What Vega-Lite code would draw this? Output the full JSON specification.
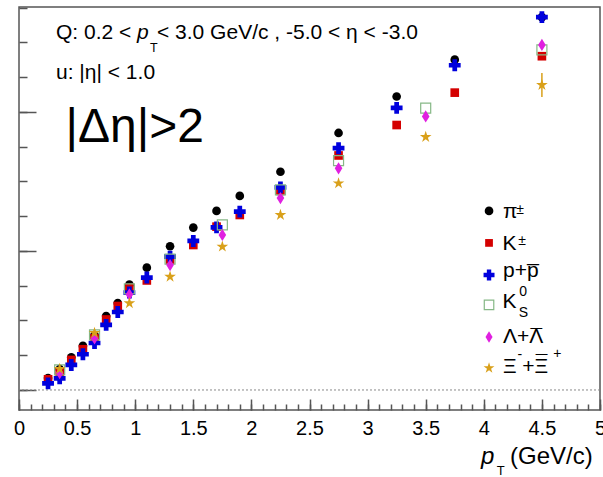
{
  "$schema": "https://vega.github.io/schema/vega-lite/v6.json",
  "width": 581,
  "height": 403,
  "autosize": {"type": "none"},
  "padding": {"left": 19, "top": 7, "right": 3, "bottom": 67},
  "background": "white",
  "config": {"view": {"stroke": "#555", "strokeWidth": 1.5}, "font": "Liberation Sans"},
  "resolve": {"axis": {"x": "independent", "y": "independent"}},
  "datasets": {
    "points": [
      {"s": "pi", "x": 0.25, "y": 0.0086}, {"s": "pi", "x": 0.35, "y": 0.0151}, {"s": "pi", "x": 0.45, "y": 0.0235},
      {"s": "pi", "x": 0.55, "y": 0.0317}, {"s": "pi", "x": 0.65, "y": 0.0395}, {"s": "pi", "x": 0.75, "y": 0.0532},
      {"s": "pi", "x": 0.85, "y": 0.0626}, {"s": "pi", "x": 0.95, "y": 0.0758}, {"s": "pi", "x": 1.1, "y": 0.0880},
      {"s": "pi", "x": 1.3, "y": 0.1034}, {"s": "pi", "x": 1.5, "y": 0.1168}, {"s": "pi", "x": 1.7, "y": 0.1288},
      {"s": "pi", "x": 1.9, "y": 0.1396}, {"s": "pi", "x": 2.25, "y": 0.1570}, {"s": "pi", "x": 2.75, "y": 0.1849},
      {"s": "pi", "x": 3.25, "y": 0.2111}, {"s": "pi", "x": 3.75, "y": 0.2376}, {"s": "pi", "x": 4.5, "y": 0.2682},
      {"s": "K", "x": 0.25, "y": 0.0077}, {"s": "K", "x": 0.35, "y": 0.0132}, {"s": "K", "x": 0.45, "y": 0.0216},
      {"s": "K", "x": 0.55, "y": 0.0293}, {"s": "K", "x": 0.65, "y": 0.0372}, {"s": "K", "x": 0.75, "y": 0.0507},
      {"s": "K", "x": 0.85, "y": 0.0604}, {"s": "K", "x": 0.95, "y": 0.0734}, {"s": "K", "x": 1.1, "y": 0.0788},
      {"s": "K", "x": 1.3, "y": 0.0935}, {"s": "K", "x": 1.5, "y": 0.1043}, {"s": "K", "x": 1.7, "y": 0.1175},
      {"s": "K", "x": 1.9, "y": 0.1259}, {"s": "K", "x": 2.25, "y": 0.1432}, {"s": "K", "x": 2.75, "y": 0.1687},
      {"s": "K", "x": 3.25, "y": 0.1906}, {"s": "K", "x": 3.75, "y": 0.2139}, {"s": "K", "x": 4.5, "y": 0.2401},
      {"s": "p", "x": 0.25, "y": 0.0048}, {"s": "p", "x": 0.35, "y": 0.0084}, {"s": "p", "x": 0.45, "y": 0.0180},
      {"s": "p", "x": 0.55, "y": 0.0257}, {"s": "p", "x": 0.65, "y": 0.0338}, {"s": "p", "x": 0.75, "y": 0.0468},
      {"s": "p", "x": 0.85, "y": 0.0561}, {"s": "p", "x": 0.95, "y": 0.0701}, {"s": "p", "x": 1.1, "y": 0.0809},
      {"s": "p", "x": 1.3, "y": 0.0959}, {"s": "p", "x": 1.5, "y": 0.1072}, {"s": "p", "x": 1.7, "y": 0.1170},
      {"s": "p", "x": 1.9, "y": 0.1283}, {"s": "p", "x": 2.25, "y": 0.1458}, {"s": "p", "x": 2.75, "y": 0.1739},
      {"s": "p", "x": 3.25, "y": 0.2029}, {"s": "p", "x": 3.75, "y": 0.2336}, {"s": "p", "x": 4.5, "y": 0.2682},
      {"s": "K0S", "x": 0.35, "y": 0.0144}, {"s": "K0S", "x": 0.65, "y": 0.0396}, {"s": "K0S", "x": 0.95, "y": 0.0727},
      {"s": "K0S", "x": 1.3, "y": 0.0942}, {"s": "K0S", "x": 1.75, "y": 0.1187}, {"s": "K0S", "x": 2.25, "y": 0.1439},
      {"s": "K0S", "x": 2.75, "y": 0.1650}, {"s": "K0S", "x": 3.5, "y": 0.2027}, {"s": "K0S", "x": 4.5, "y": 0.2446},
      {"s": "Lam", "x": 0.35, "y": 0.0122}, {"s": "Lam", "x": 0.65, "y": 0.0372}, {"s": "Lam", "x": 0.95, "y": 0.0687},
      {"s": "Lam", "x": 1.3, "y": 0.0899}, {"s": "Lam", "x": 1.75, "y": 0.1115}, {"s": "Lam", "x": 2.25, "y": 0.1381},
      {"s": "Lam", "x": 2.75, "y": 0.1595}, {"s": "Lam", "x": 3.5, "y": 0.1968}, {"s": "Lam", "x": 4.5, "y": 0.2482},
      {"s": "Xi", "x": 0.35, "y": 0.0151}, {"s": "Xi", "x": 0.65, "y": 0.0410}, {"s": "Xi", "x": 0.95, "y": 0.0624},
      {"s": "Xi", "x": 1.3, "y": 0.0815}, {"s": "Xi", "x": 1.75, "y": 0.1031}, {"s": "Xi", "x": 2.25, "y": 0.1259},
      {"s": "Xi", "x": 2.75, "y": 0.1487}, {"s": "Xi", "x": 3.5, "y": 0.1820}, {"s": "Xi", "x": 4.5, "y": 0.2194}
    ],
    "errs": [
      {"s": "Xi", "x": 4.5, "lo": 0.2108, "hi": 0.2280}
    ],
    "legend": [
      {"s": "pi", "x": 4.045, "y": 0.1288},
      {"s": "K", "x": 4.045, "y": 0.1058},
      {"s": "p", "x": 4.045, "y": 0.0827},
      {"s": "K0S", "x": 4.045, "y": 0.0612},
      {"s": "Lam", "x": 4.045, "y": 0.0381},
      {"s": "Xi", "x": 4.045, "y": 0.0158}
    ],
    "texts": [
      {"role": "note", "text": "Q: 0.2 <", "x": 0.3184, "y": 0.2523},
      {"role": "noteI", "text": "p", "x": 1.0155, "y": 0.2523},
      {"role": "noteSub", "text": "T", "x": 1.127, "y": 0.2434},
      {"role": "note", "text": "< 3.0 GeV/c , -5.0 < η < -3.0", "x": 1.1876, "y": 0.2523},
      {"role": "note", "text": "u: |η| < 1.0", "x": 0.3184, "y": 0.2237},
      {"role": "big", "text": "|Δη|>2", "x": 0.40, "y": 0.1786},
      {"role": "leg", "text": "π", "x": 4.165, "y": 0.1235},
      {"role": "legSup", "text": "±", "x": 4.28, "y": 0.1268},
      {"role": "leg", "text": "K", "x": 4.161, "y": 0.1007},
      {"role": "legSup", "text": "±", "x": 4.296, "y": 0.1040},
      {"role": "leg", "text": "p+p\u0305", "x": 4.165, "y": 0.0813},
      {"role": "leg", "text": "K", "x": 4.161, "y": 0.0590},
      {"role": "legSup", "text": "0", "x": 4.306, "y": 0.0676},
      {"role": "legSup", "text": "S", "x": 4.300, "y": 0.0522},
      {"role": "leg", "text": "Λ+Λ", "x": 4.165, "y": 0.0336},
      {"role": "leg", "text": "¯", "x": 4.402, "y": 0.0336},
      {"role": "leg", "text": "Ξ", "x": 4.165, "y": 0.0120},
      {"role": "legSup", "text": "-", "x": 4.29, "y": 0.0223},
      {"role": "leg", "text": "+Ξ", "x": 4.33, "y": 0.0120},
      {"role": "leg", "text": "¯", "x": 4.447, "y": 0.0150},
      {"role": "legSup", "text": "+", "x": 4.597, "y": 0.0233},
      {"role": "titleI", "text": "p", "x": 3.976, "y": -0.0532},
      {"role": "titleSub", "text": "T", "x": 4.111, "y": -0.0612},
      {"role": "title", "text": "(GeV/c)", "x": 4.2255, "y": -0.0532}
    ]
  },
  "layer": [
    {
      "data": {"values": [{}]},
      "mark": {"type": "rule", "color": "#888", "strokeWidth": 1, "strokeDash": [2, 2]},
      "encoding": {"y": {"datum": 0, "type": "quantitative", "axis": null}}
    },
    {
      "data": {"name": "points"},
      "transform": [{"filter": "datum.s == 'pi'"}],
      "mark": {"type": "point", "shape": "circle", "filled": true, "color": "#000000", "size": 75, "opacity": 1},
      "encoding": {
        "x": {
          "field": "x", "type": "quantitative",
          "scale": {"domain": [0, 5], "nice": false, "zero": false},
          "axis": {
            "orient": "bottom",
            "values": [0, 0.5, 1, 1.5, 2, 2.5, 3, 3.5, 4, 4.5, 5],
            "tickCount": 500,
            "format": "~g",
            "tickSize": -11,
            "tickColor": "#555", "tickWidth": 1.5, "domain": false, "grid": false, "title": null,
            "labelFont": "Liberation Sans", "labelFontSize": 20, "labelColor": "#000", "labelPadding": 19,
            "labelFlush": false, "labelOverlap": false
          }
        },
        "y": {
          "field": "y", "type": "quantitative",
          "scale": {"domain": [-0.0144, 0.2755], "nice": false, "zero": false},
          "axis": {
            "orient": "left",
            "values": [0, 0.1, 0.2],
            "tickCount": 500,
            "labels": false,
            "tickSize": -17,
            "tickColor": "#555", "tickWidth": 1.5, "domain": false, "grid": false, "title": null
          }
        }
      }
    },
    {
      "data": {"name": "points"},
      "transform": [{"filter": "datum.s == 'K'"}],
      "mark": {"type": "point", "shape": "square", "filled": true, "color": "#d40000", "size": 75, "opacity": 1},
      "encoding": {
        "x": {
          "field": "x", "type": "quantitative",
          "axis": {
            "orient": "bottom",
            "values": [0,0.1,0.2,0.3,0.4,0.5,0.6,0.7,0.8,0.9,1,1.1,1.2,1.3,1.4,1.5,1.6,1.7,1.8,1.9,2,2.1,2.2,2.3,2.4,2.5,2.6,2.7,2.8,2.9,3,3.1,3.2,3.3,3.4,3.5,3.6,3.7,3.8,3.9,4,4.1,4.2,4.3,4.4,4.5,4.6,4.7,4.8,4.9,5],
            "tickCount": 500,
            "labels": false,
            "tickSize": -6,
            "tickColor": "#555", "tickWidth": 1.5, "domain": false, "grid": false, "title": null
          }
        },
        "y": {
          "field": "y", "type": "quantitative",
          "axis": {
            "orient": "left",
            "values": [0,0.025,0.05,0.075,0.1,0.125,0.15,0.175,0.2,0.225,0.25,0.275],
            "tickCount": 500,
            "labels": false,
            "tickSize": -8,
            "tickColor": "#555", "tickWidth": 1.5, "domain": false, "grid": false, "title": null
          }
        }
      }
    },
    {
      "data": {"name": "points"},
      "transform": [{"filter": "datum.s == 'p'"}],
      "mark": {"type": "point", "shape": "cross", "filled": true, "color": "#0000dd", "size": 140, "opacity": 1},
      "encoding": {"x": {"field": "x", "type": "quantitative", "axis": null}, "y": {"field": "y", "type": "quantitative", "axis": null}}
    },
    {
      "data": {"name": "points"},
      "transform": [{"filter": "datum.s == 'K0S'"}],
      "mark": {"type": "point", "shape": "square", "filled": false, "color": "#86b886", "strokeWidth": 1.2, "size": 100, "opacity": 1},
      "encoding": {"x": {"field": "x", "type": "quantitative", "axis": null}, "y": {"field": "y", "type": "quantitative", "axis": null}}
    },
    {
      "data": {"name": "points"},
      "transform": [{"filter": "datum.s == 'Lam'"}],
      "mark": {"type": "point", "shape": "M0,-1L0.62,0L0,1L-0.62,0Z", "filled": true, "color": "#e020e0", "size": 150, "opacity": 1},
      "encoding": {"x": {"field": "x", "type": "quantitative", "axis": null}, "y": {"field": "y", "type": "quantitative", "axis": null}}
    },
    {
      "data": {"name": "errs"},
      "mark": {"type": "rule", "color": "#d9a01a", "strokeWidth": 1.5},
      "encoding": {"x": {"field": "x", "type": "quantitative", "axis": null}, "y": {"field": "lo", "type": "quantitative", "axis": null}, "y2": {"field": "hi"}}
    },
    {
      "data": {"name": "points"},
      "transform": [{"filter": "datum.s == 'Xi'"}],
      "mark": {"type": "point", "shape": "M0,-1L0.2235,-0.3075L0.951,-0.309L0.3614,0.1174L0.588,0.809L0,0.38L-0.588,0.809L-0.3614,0.1174L-0.951,-0.309L-0.2235,-0.3075Z", "filled": true, "color": "#d9a01a", "size": 150, "opacity": 1},
      "encoding": {"x": {"field": "x", "type": "quantitative", "axis": null}, "y": {"field": "y", "type": "quantitative", "axis": null}}
    },
    {
      "data": {"name": "legend"},
      "transform": [{"filter": "datum.s == 'pi'"}],
      "mark": {"type": "point", "shape": "circle", "filled": true, "color": "#000000", "size": 75, "opacity": 1},
      "encoding": {"x": {"field": "x", "type": "quantitative", "axis": null}, "y": {"field": "y", "type": "quantitative", "axis": null}}
    },
    {
      "data": {"name": "legend"},
      "transform": [{"filter": "datum.s == 'K'"}],
      "mark": {"type": "point", "shape": "square", "filled": true, "color": "#d40000", "size": 60, "opacity": 1},
      "encoding": {"x": {"field": "x", "type": "quantitative", "axis": null}, "y": {"field": "y", "type": "quantitative", "axis": null}}
    },
    {
      "data": {"name": "legend"},
      "transform": [{"filter": "datum.s == 'p'"}],
      "mark": {"type": "point", "shape": "cross", "filled": true, "color": "#0000dd", "size": 120, "opacity": 1},
      "encoding": {"x": {"field": "x", "type": "quantitative", "axis": null}, "y": {"field": "y", "type": "quantitative", "axis": null}}
    },
    {
      "data": {"name": "legend"},
      "transform": [{"filter": "datum.s == 'K0S'"}],
      "mark": {"type": "point", "shape": "square", "filled": false, "color": "#86b886", "strokeWidth": 1.2, "size": 90, "opacity": 1},
      "encoding": {"x": {"field": "x", "type": "quantitative", "axis": null}, "y": {"field": "y", "type": "quantitative", "axis": null}}
    },
    {
      "data": {"name": "legend"},
      "transform": [{"filter": "datum.s == 'Lam'"}],
      "mark": {"type": "point", "shape": "M0,-1L0.62,0L0,1L-0.62,0Z", "filled": true, "color": "#e020e0", "size": 130, "opacity": 1},
      "encoding": {"x": {"field": "x", "type": "quantitative", "axis": null}, "y": {"field": "y", "type": "quantitative", "axis": null}}
    },
    {
      "data": {"name": "legend"},
      "transform": [{"filter": "datum.s == 'Xi'"}],
      "mark": {"type": "point", "shape": "M0,-1L0.2235,-0.3075L0.951,-0.309L0.3614,0.1174L0.588,0.809L0,0.38L-0.588,0.809L-0.3614,0.1174L-0.951,-0.309L-0.2235,-0.3075Z", "filled": true, "color": "#d9a01a", "size": 130, "opacity": 1},
      "encoding": {"x": {"field": "x", "type": "quantitative", "axis": null}, "y": {"field": "y", "type": "quantitative", "axis": null}}
    },
    {
      "data": {"name": "texts"},
      "transform": [{"filter": "datum.role == 'note'"}],
      "mark": {"type": "text", "align": "left", "baseline": "alphabetic", "font": "Liberation Sans", "fontSize": 21, "color": "#000"},
      "encoding": {"x": {"field": "x", "type": "quantitative", "axis": null}, "y": {"field": "y", "type": "quantitative", "axis": null}, "text": {"field": "text"}}
    },
    {
      "data": {"name": "texts"},
      "transform": [{"filter": "datum.role == 'noteI'"}],
      "mark": {"type": "text", "align": "left", "baseline": "alphabetic", "font": "Liberation Sans", "fontSize": 21, "fontStyle": "italic", "color": "#000"},
      "encoding": {"x": {"field": "x", "type": "quantitative", "axis": null}, "y": {"field": "y", "type": "quantitative", "axis": null}, "text": {"field": "text"}}
    },
    {
      "data": {"name": "texts"},
      "transform": [{"filter": "datum.role == 'noteSub'"}],
      "mark": {"type": "text", "align": "left", "baseline": "alphabetic", "font": "Liberation Sans", "fontSize": 12.5, "color": "#000"},
      "encoding": {"x": {"field": "x", "type": "quantitative", "axis": null}, "y": {"field": "y", "type": "quantitative", "axis": null}, "text": {"field": "text"}}
    },
    {
      "data": {"name": "texts"},
      "transform": [{"filter": "datum.role == 'legSup'"}],
      "mark": {"type": "text", "align": "left", "baseline": "alphabetic", "font": "Liberation Sans", "fontSize": 14, "color": "#000"},
      "encoding": {"x": {"field": "x", "type": "quantitative", "axis": null}, "y": {"field": "y", "type": "quantitative", "axis": null}, "text": {"field": "text"}}
    },
    {
      "data": {"name": "texts"},
      "transform": [{"filter": "datum.role == 'big'"}],
      "mark": {"type": "text", "align": "left", "baseline": "alphabetic", "font": "Liberation Sans", "fontSize": 48, "color": "#000"},
      "encoding": {"x": {"field": "x", "type": "quantitative", "axis": null}, "y": {"field": "y", "type": "quantitative", "axis": null}, "text": {"field": "text"}}
    },
    {
      "data": {"name": "texts"},
      "transform": [{"filter": "datum.role == 'leg'"}],
      "mark": {"type": "text", "align": "left", "baseline": "alphabetic", "font": "Liberation Sans", "fontSize": 21, "color": "#000"},
      "encoding": {"x": {"field": "x", "type": "quantitative", "axis": null}, "y": {"field": "y", "type": "quantitative", "axis": null}, "text": {"field": "text"}}
    },
    {
      "data": {"name": "texts"},
      "transform": [{"filter": "datum.role == 'title'"}],
      "mark": {"type": "text", "align": "left", "baseline": "alphabetic", "font": "Liberation Sans", "fontSize": 24, "color": "#000"},
      "encoding": {"x": {"field": "x", "type": "quantitative", "axis": null}, "y": {"field": "y", "type": "quantitative", "axis": null}, "text": {"field": "text"}}
    },
    {
      "data": {"name": "texts"},
      "transform": [{"filter": "datum.role == 'titleI'"}],
      "mark": {"type": "text", "align": "left", "baseline": "alphabetic", "font": "Liberation Sans", "fontSize": 24, "fontStyle": "italic", "color": "#000"},
      "encoding": {"x": {"field": "x", "type": "quantitative", "axis": null}, "y": {"field": "y", "type": "quantitative", "axis": null}, "text": {"field": "text"}}
    },
    {
      "data": {"name": "texts"},
      "transform": [{"filter": "datum.role == 'titleSub'"}],
      "mark": {"type": "text", "align": "left", "baseline": "alphabetic", "font": "Liberation Sans", "fontSize": 13, "color": "#000"},
      "encoding": {"x": {"field": "x", "type": "quantitative", "axis": null}, "y": {"field": "y", "type": "quantitative", "axis": null}, "text": {"field": "text"}}
    }
  ]
}
